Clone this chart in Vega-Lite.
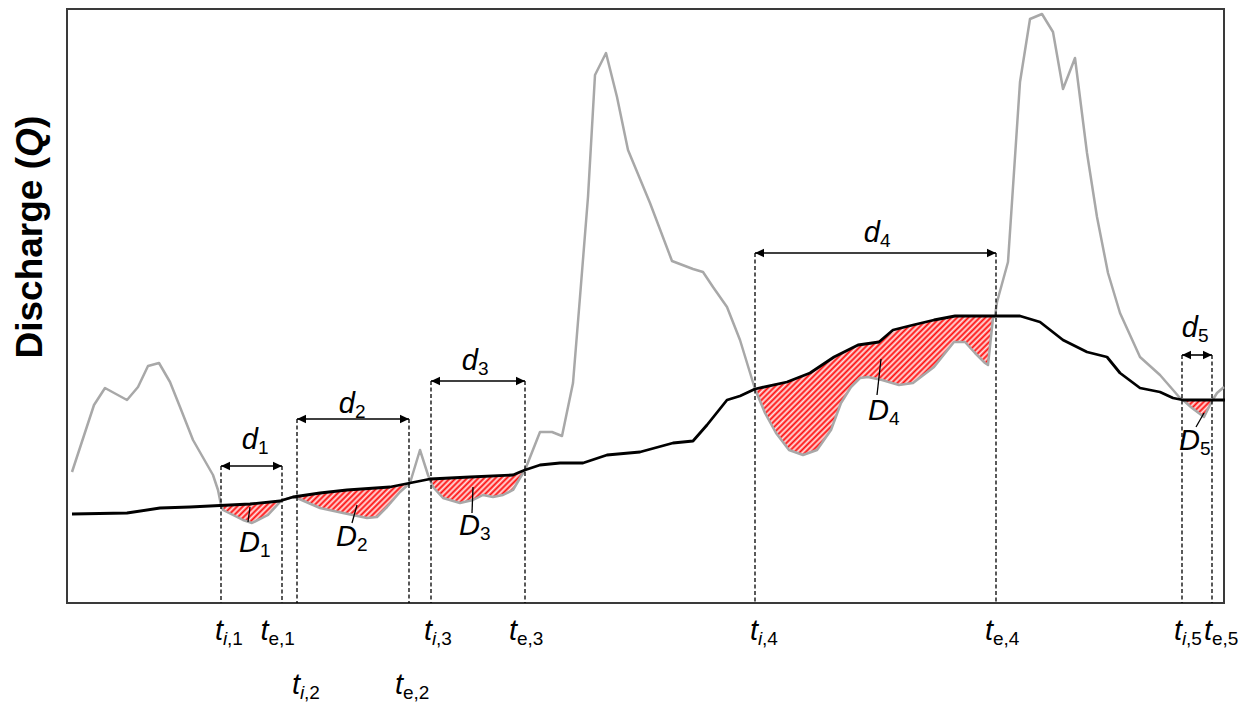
{
  "$schema": "https://vega.github.io/schema/vega-lite/v6.json",
  "width": 1157,
  "height": 594,
  "autosize": {"type": "none"},
  "padding": {"left": 67, "top": 9, "right": 16, "bottom": 99},
  "background": "white",
  "config": {
    "view": {"stroke": "#3a3a3a", "strokeWidth": 2},
    "font": "Liberation Sans"
  },
  "datasets": {
    "obs": [
      {"x":5,"q":131},{"x":27,"q":198},{"x":38,"q":215},{"x":60,"q":203},{"x":71,"q":216},{"x":81,"q":237},{"x":92,"q":240},{"x":103,"q":221},{"x":113,"q":196},{"x":126,"q":163},{"x":146,"q":128},{"x":151,"q":113},{"x":154,"q":98},{"x":156,"q":93},{"x":176,"q":83},{"x":185,"q":80},{"x":201,"q":88},{"x":213,"q":101},{"x":216,"q":103},{"x":226,"q":106},{"x":230,"q":105},{"x":253,"q":95},{"x":276,"q":90},{"x":300,"q":85},{"x":310,"q":86},{"x":320,"q":96},{"x":333,"q":111},{"x":343,"q":120},{"x":353,"q":153},{"x":361,"q":128},{"x":363,"q":123},{"x":366,"q":116},{"x":376,"q":105},{"x":393,"q":100},{"x":406,"q":103},{"x":416,"q":108},{"x":426,"q":106},{"x":436,"q":108},{"x":446,"q":113},{"x":453,"q":125},{"x":458,"q":133},{"x":473,"q":171},{"x":485,"q":171},{"x":495,"q":167},{"x":506,"q":220},{"x":513,"q":306},{"x":521,"q":406},{"x":528,"q":528},{"x":539,"q":550},{"x":550,"q":506},{"x":561,"q":453},{"x":583,"q":400},{"x":605,"q":342},{"x":626,"q":334},{"x":636,"q":331},{"x":646,"q":316},{"x":660,"q":296},{"x":673,"q":263},{"x":688,"q":214},{"x":698,"q":190},{"x":709,"q":170},{"x":722,"q":153},{"x":736,"q":148},{"x":750,"q":153},{"x":764,"q":173},{"x":774,"q":200},{"x":784,"q":216},{"x":793,"q":225},{"x":801,"q":226},{"x":815,"q":223},{"x":832,"q":218},{"x":846,"q":220},{"x":867,"q":236},{"x":887,"q":261},{"x":898,"q":261},{"x":908,"q":250},{"x":918,"q":240},{"x":921,"q":238},{"x":926,"q":285},{"x":928,"q":287},{"x":930,"q":301},{"x":941,"q":341},{"x":953,"q":521},{"x":963,"q":584},{"x":975,"q":589},{"x":986,"q":571},{"x":996,"q":514},{"x":1008,"q":545},{"x":1020,"q":450},{"x":1030,"q":386},{"x":1041,"q":330},{"x":1053,"q":290},{"x":1073,"q":246},{"x":1093,"q":228},{"x":1113,"q":205},{"x":1116,"q":203},{"x":1125,"q":195},{"x":1137,"q":186},{"x":1145,"q":202},{"x":1150,"q":210},{"x":1157,"q":216}
    ],
    "base": [
      {"x":5,"q":89},{"x":60,"q":90},{"x":93,"q":95},{"x":123,"q":96},{"x":153,"q":97.5},{"x":183,"q":99},{"x":213,"q":102},{"x":216,"q":103},{"x":226,"q":106},{"x":253,"q":110},{"x":280,"q":113},{"x":323,"q":116},{"x":343,"q":120},{"x":363,"q":124},{"x":403,"q":126},{"x":446,"q":128},{"x":453,"q":131},{"x":458,"q":133},{"x":473,"q":138},{"x":493,"q":140},{"x":516,"q":140},{"x":540,"q":148},{"x":573,"q":151},{"x":606,"q":160},{"x":626,"q":162},{"x":640,"q":178},{"x":660,"q":203},{"x":673,"q":207},{"x":688,"q":214},{"x":720,"q":221},{"x":743,"q":230},{"x":767,"q":246},{"x":791,"q":258},{"x":812,"q":261},{"x":826,"q":273},{"x":846,"q":278},{"x":867,"q":283},{"x":888,"q":287},{"x":929,"q":287},{"x":953,"q":287},{"x":973,"q":281},{"x":996,"q":263},{"x":1020,"q":251},{"x":1040,"q":246},{"x":1053,"q":230},{"x":1073,"q":215},{"x":1093,"q":211},{"x":1106,"q":205},{"x":1116,"q":203},{"x":1158,"q":203}
    ],
    "ev": [
      {"e":1,"x":154,"lo":98,"hi":98},{"e":1,"x":156,"lo":93,"hi":97.7},{"e":1,"x":176,"lo":83,"hi":98.6},{"e":1,"x":185,"lo":80,"hi":99.2},{"e":1,"x":201,"lo":88,"hi":100.8},{"e":1,"x":213,"lo":101,"hi":102},{"e":1,"x":216,"lo":103,"hi":103},
      {"e":2,"x":230,"lo":105,"hi":106.5},{"e":2,"x":253,"lo":95,"hi":110},{"e":2,"x":276,"lo":90,"hi":112.6},{"e":2,"x":300,"lo":85,"hi":114.4},{"e":2,"x":310,"lo":86,"hi":115.1},{"e":2,"x":320,"lo":96,"hi":115.8},{"e":2,"x":333,"lo":111,"hi":118},{"e":2,"x":343,"lo":120,"hi":120},
      {"e":3,"x":363,"lo":124,"hi":124},{"e":3,"x":366,"lo":116,"hi":124.2},{"e":3,"x":376,"lo":105,"hi":124.8},{"e":3,"x":393,"lo":100,"hi":125.5},{"e":3,"x":406,"lo":103,"hi":126},{"e":3,"x":416,"lo":108,"hi":126.5},{"e":3,"x":426,"lo":106,"hi":127},{"e":3,"x":436,"lo":108,"hi":127.5},{"e":3,"x":446,"lo":113,"hi":128},{"e":3,"x":453,"lo":125,"hi":131},{"e":3,"x":458,"lo":133,"hi":133},
      {"e":4,"x":688,"lo":214,"hi":214},{"e":4,"x":698,"lo":190,"hi":216.2},{"e":4,"x":709,"lo":170,"hi":218.6},{"e":4,"x":722,"lo":153,"hi":221.3},{"e":4,"x":736,"lo":148,"hi":227.3},{"e":4,"x":750,"lo":153,"hi":234.1},{"e":4,"x":764,"lo":173,"hi":244},{"e":4,"x":774,"lo":200,"hi":249.5},{"e":4,"x":784,"lo":216,"hi":254.5},{"e":4,"x":793,"lo":225,"hi":258.2},{"e":4,"x":801,"lo":226,"hi":259.6},{"e":4,"x":815,"lo":223,"hi":263.6},{"e":4,"x":832,"lo":218,"hi":274.5},{"e":4,"x":846,"lo":220,"hi":278},{"e":4,"x":867,"lo":236,"hi":283},{"e":4,"x":887,"lo":261,"hi":286.8},{"e":4,"x":898,"lo":261,"hi":287},{"e":4,"x":908,"lo":250,"hi":287},{"e":4,"x":918,"lo":240,"hi":287},{"e":4,"x":921,"lo":238,"hi":287},{"e":4,"x":926,"lo":285,"hi":287},{"e":4,"x":928,"lo":287,"hi":287},
      {"e":5,"x":1116,"lo":203,"hi":203},{"e":5,"x":1125,"lo":195,"hi":203},{"e":5,"x":1137,"lo":186,"hi":203},{"e":5,"x":1145,"lo":202,"hi":203},{"e":5,"x":1146,"lo":203,"hi":203}
    ],
    "arr": [
      {"x1":154,"x2":215,"q":137},
      {"x1":230,"x2":342,"q":184},
      {"x1":364,"x2":458,"q":222},
      {"x1":688,"x2":929,"q":350},
      {"x1":1115,"x2":1145,"q":248}
    ],
    "lead": [
      {"x":183,"q":96,"x2":181,"q2":81},
      {"x":290,"q":98,"x2":285,"q2":80},
      {"x":406,"q":116,"x2":405,"q2":90},
      {"x":814,"q":244,"x2":810,"q2":208},
      {"x":1137,"q":190,"x2":1129,"q2":176}
    ],
    "txt": [
      {"x":156,"q":-37,"t":"t","s":"m"},{"x":156,"q":-37,"t":"i","s":"si"},{"x":160,"q":-37,"t":",1","s":"sr"},
      {"x":201.5,"q":-37,"t":"t","s":"m"},{"x":201.5,"q":-37,"t":"e,1","s":"sr"},
      {"x":233,"q":-91,"t":"t","s":"m"},{"x":233,"q":-91,"t":"i","s":"si"},{"x":237,"q":-91,"t":",2","s":"sr"},
      {"x":336,"q":-91,"t":"t","s":"m"},{"x":336,"q":-91,"t":"e,2","s":"sr"},
      {"x":365,"q":-37,"t":"t","s":"m"},{"x":365,"q":-37,"t":"i","s":"si"},{"x":369,"q":-37,"t":",3","s":"sr"},
      {"x":450,"q":-37,"t":"t","s":"m"},{"x":450,"q":-37,"t":"e,3","s":"sr"},
      {"x":691,"q":-37,"t":"t","s":"m"},{"x":691,"q":-37,"t":"i","s":"si"},{"x":695,"q":-37,"t":",4","s":"sr"},
      {"x":926,"q":-37,"t":"t","s":"m"},{"x":926,"q":-37,"t":"e,4","s":"sr"},
      {"x":1115,"q":-37,"t":"t","s":"m"},{"x":1115,"q":-37,"t":"i","s":"si"},{"x":1119,"q":-37,"t":",5","s":"sr"},
      {"x":1145,"q":-37,"t":"t","s":"m"},{"x":1145,"q":-37,"t":"e,5","s":"sr"},
      {"x":191,"q":154,"t":"d","s":"m"},{"x":191,"q":154,"t":"1","s":"sr"},
      {"x":288,"q":190,"t":"d","s":"m"},{"x":288,"q":190,"t":"2","s":"sr"},
      {"x":411,"q":233,"t":"d","s":"m"},{"x":411,"q":233,"t":"3","s":"sr"},
      {"x":813,"q":361,"t":"d","s":"m"},{"x":813,"q":361,"t":"4","s":"sr"},
      {"x":1131,"q":266,"t":"d","s":"m"},{"x":1131,"q":266,"t":"5","s":"sr"},
      {"x":193,"q":51,"t":"D","s":"m"},{"x":193,"q":51,"t":"1","s":"sr"},
      {"x":290,"q":57,"t":"D","s":"m"},{"x":290,"q":57,"t":"2","s":"sr"},
      {"x":413,"q":68,"t":"D","s":"m"},{"x":413,"q":68,"t":"3","s":"sr"},
      {"x":822,"q":183,"t":"D","s":"m"},{"x":822,"q":183,"t":"4","s":"sr"},
      {"x":1133,"q":153,"t":"D","s":"m"},{"x":1133,"q":153,"t":"5","s":"sr"}
    ],
    "ttl": [
      {"x":-25,"q":446,"t":"Discharge (","s":"b"},
      {"x":-25,"q":446,"t":"Q","s":"bi"},
      {"x":-25,"q":475,"t":")","s":"bl"}
    ]
  },
  "layer": [
    {
      "data": {"name": "ev"},
      "transform": [{"filter": {"field": "e", "equal": 1}}],
      "mark": {"type": "area", "interpolate": "linear", "fillOpacity": 0.96,
        "fill": {"gradient": "linear", "x1": 0, "y1": 0, "x2": 1.2431, "y2": 0.4612, "stops": [
          {"offset":0,"color":"red"},{"offset":0.0323,"color":"#ffe4e4"},{"offset":0.0645,"color":"red"},{"offset":0.0968,"color":"#ffe4e4"},{"offset":0.129,"color":"red"},{"offset":0.1613,"color":"#ffe4e4"},{"offset":0.1935,"color":"red"},{"offset":0.2258,"color":"#ffe4e4"},{"offset":0.2581,"color":"red"},{"offset":0.2903,"color":"#ffe4e4"},{"offset":0.3226,"color":"red"},{"offset":0.3548,"color":"#ffe4e4"},{"offset":0.3871,"color":"red"},{"offset":0.4194,"color":"#ffe4e4"},{"offset":0.4516,"color":"red"},{"offset":0.4839,"color":"#ffe4e4"},{"offset":0.5161,"color":"red"},{"offset":0.5484,"color":"#ffe4e4"},{"offset":0.5806,"color":"red"},{"offset":0.6129,"color":"#ffe4e4"},{"offset":0.6452,"color":"red"},{"offset":0.6774,"color":"#ffe4e4"},{"offset":0.7097,"color":"red"},{"offset":0.7419,"color":"#ffe4e4"},{"offset":0.7742,"color":"red"},{"offset":0.8065,"color":"#ffe4e4"},{"offset":0.8387,"color":"red"},{"offset":0.871,"color":"#ffe4e4"},{"offset":0.9032,"color":"red"},{"offset":0.9355,"color":"#ffe4e4"},{"offset":0.9677,"color":"red"},{"offset":1,"color":"#ffe4e4"}
        ]}},
      "encoding": {
        "x": {"field": "x", "type": "quantitative", "scale": {"domain": [0, 1157], "nice": false, "zero": false},
              "axis": {"grid": true, "values": [199, 398, 597, 796, 995], "labels": false, "ticks": false, "domain": false, "title": null, "gridColor": "#d9d9d9", "gridWidth": 1.5}},
        "y": {"field": "hi", "type": "quantitative", "scale": {"domain": [0, 594], "nice": false, "zero": false},
              "axis": {"grid": true, "values": [99, 198, 297, 396, 495], "labels": false, "ticks": false, "domain": false, "title": null, "gridColor": "#d9d9d9", "gridWidth": 1.5}},
        "y2": {"field": "lo"}
      }
    },
    {
      "data": {"name": "ev"},
      "transform": [{"filter": {"field": "e", "equal": 2}}],
      "mark": {"type": "area", "interpolate": "linear", "fillOpacity": 0.96,
        "fill": {"gradient": "linear", "x1": 0, "y1": 0, "x2": 1.2333, "y2": 0.382, "stops": [
          {"offset":0,"color":"red"},{"offset":0.0185,"color":"#ffe4e4"},{"offset":0.037,"color":"red"},{"offset":0.0556,"color":"#ffe4e4"},{"offset":0.0741,"color":"red"},{"offset":0.0926,"color":"#ffe4e4"},{"offset":0.1111,"color":"red"},{"offset":0.1296,"color":"#ffe4e4"},{"offset":0.1481,"color":"red"},{"offset":0.1667,"color":"#ffe4e4"},{"offset":0.1852,"color":"red"},{"offset":0.2037,"color":"#ffe4e4"},{"offset":0.2222,"color":"red"},{"offset":0.2407,"color":"#ffe4e4"},{"offset":0.2593,"color":"red"},{"offset":0.2778,"color":"#ffe4e4"},{"offset":0.2963,"color":"red"},{"offset":0.3148,"color":"#ffe4e4"},{"offset":0.3333,"color":"red"},{"offset":0.3519,"color":"#ffe4e4"},{"offset":0.3704,"color":"red"},{"offset":0.3889,"color":"#ffe4e4"},{"offset":0.4074,"color":"red"},{"offset":0.4259,"color":"#ffe4e4"},{"offset":0.4444,"color":"red"},{"offset":0.463,"color":"#ffe4e4"},{"offset":0.4815,"color":"red"},{"offset":0.5,"color":"#ffe4e4"},{"offset":0.5185,"color":"red"},{"offset":0.537,"color":"#ffe4e4"},{"offset":0.5556,"color":"red"},{"offset":0.5741,"color":"#ffe4e4"},{"offset":0.5926,"color":"red"},{"offset":0.6111,"color":"#ffe4e4"},{"offset":0.6296,"color":"red"},{"offset":0.6481,"color":"#ffe4e4"},{"offset":0.6667,"color":"red"},{"offset":0.6852,"color":"#ffe4e4"},{"offset":0.7037,"color":"red"},{"offset":0.7222,"color":"#ffe4e4"},{"offset":0.7407,"color":"red"},{"offset":0.7593,"color":"#ffe4e4"},{"offset":0.7778,"color":"red"},{"offset":0.7963,"color":"#ffe4e4"},{"offset":0.8148,"color":"red"},{"offset":0.8333,"color":"#ffe4e4"},{"offset":0.8519,"color":"red"},{"offset":0.8704,"color":"#ffe4e4"},{"offset":0.8889,"color":"red"},{"offset":0.9074,"color":"#ffe4e4"},{"offset":0.9259,"color":"red"},{"offset":0.9444,"color":"#ffe4e4"},{"offset":0.963,"color":"red"},{"offset":0.9815,"color":"#ffe4e4"},{"offset":1,"color":"red"}
        ]}},
      "encoding": {
        "x": {"field": "x", "type": "quantitative", "axis": null},
        "y": {"field": "hi", "type": "quantitative", "axis": null},
        "y2": {"field": "lo"}
      }
    },
    {
      "data": {"name": "ev"},
      "transform": [{"filter": {"field": "e", "equal": 3}}],
      "mark": {"type": "area", "interpolate": "linear", "fillOpacity": 0.96,
        "fill": {"gradient": "linear", "x1": 0, "y1": 0, "x2": 1.2221, "y2": 0.4245, "stops": [
          {"offset":0,"color":"red"},{"offset":0.0217,"color":"#ffe4e4"},{"offset":0.0435,"color":"red"},{"offset":0.0652,"color":"#ffe4e4"},{"offset":0.087,"color":"red"},{"offset":0.1087,"color":"#ffe4e4"},{"offset":0.1304,"color":"red"},{"offset":0.1522,"color":"#ffe4e4"},{"offset":0.1739,"color":"red"},{"offset":0.1957,"color":"#ffe4e4"},{"offset":0.2174,"color":"red"},{"offset":0.2391,"color":"#ffe4e4"},{"offset":0.2609,"color":"red"},{"offset":0.2826,"color":"#ffe4e4"},{"offset":0.3043,"color":"red"},{"offset":0.3261,"color":"#ffe4e4"},{"offset":0.3478,"color":"red"},{"offset":0.3696,"color":"#ffe4e4"},{"offset":0.3913,"color":"red"},{"offset":0.413,"color":"#ffe4e4"},{"offset":0.4348,"color":"red"},{"offset":0.4565,"color":"#ffe4e4"},{"offset":0.4783,"color":"red"},{"offset":0.5,"color":"#ffe4e4"},{"offset":0.5217,"color":"red"},{"offset":0.5435,"color":"#ffe4e4"},{"offset":0.5652,"color":"red"},{"offset":0.587,"color":"#ffe4e4"},{"offset":0.6087,"color":"red"},{"offset":0.6304,"color":"#ffe4e4"},{"offset":0.6522,"color":"red"},{"offset":0.6739,"color":"#ffe4e4"},{"offset":0.6957,"color":"red"},{"offset":0.7174,"color":"#ffe4e4"},{"offset":0.7391,"color":"red"},{"offset":0.7609,"color":"#ffe4e4"},{"offset":0.7826,"color":"red"},{"offset":0.8043,"color":"#ffe4e4"},{"offset":0.8261,"color":"red"},{"offset":0.8478,"color":"#ffe4e4"},{"offset":0.8696,"color":"red"},{"offset":0.8913,"color":"#ffe4e4"},{"offset":0.913,"color":"red"},{"offset":0.9348,"color":"#ffe4e4"},{"offset":0.9565,"color":"red"},{"offset":0.9783,"color":"#ffe4e4"},{"offset":1,"color":"red"}
        ]}},
      "encoding": {
        "x": {"field": "x", "type": "quantitative", "axis": null},
        "y": {"field": "hi", "type": "quantitative", "axis": null},
        "y2": {"field": "lo"}
      }
    },
    {
      "data": {"name": "ev"},
      "transform": [{"filter": {"field": "e", "equal": 4}}],
      "mark": {"type": "area", "interpolate": "linear", "fillOpacity": 0.96,
        "fill": {"gradient": "linear", "x1": 0, "y1": 0, "x2": 1.1825, "y2": 0.6849, "stops": [
          {"offset":0,"color":"red"},{"offset":0.0075,"color":"#ffe4e4"},{"offset":0.0149,"color":"red"},{"offset":0.0224,"color":"#ffe4e4"},{"offset":0.0299,"color":"red"},{"offset":0.0373,"color":"#ffe4e4"},{"offset":0.0448,"color":"red"},{"offset":0.0522,"color":"#ffe4e4"},{"offset":0.0597,"color":"red"},{"offset":0.0672,"color":"#ffe4e4"},{"offset":0.0746,"color":"red"},{"offset":0.0821,"color":"#ffe4e4"},{"offset":0.0896,"color":"red"},{"offset":0.097,"color":"#ffe4e4"},{"offset":0.1045,"color":"red"},{"offset":0.1119,"color":"#ffe4e4"},{"offset":0.1194,"color":"red"},{"offset":0.1269,"color":"#ffe4e4"},{"offset":0.1343,"color":"red"},{"offset":0.1418,"color":"#ffe4e4"},{"offset":0.1493,"color":"red"},{"offset":0.1567,"color":"#ffe4e4"},{"offset":0.1642,"color":"red"},{"offset":0.1716,"color":"#ffe4e4"},{"offset":0.1791,"color":"red"},{"offset":0.1866,"color":"#ffe4e4"},{"offset":0.194,"color":"red"},{"offset":0.2015,"color":"#ffe4e4"},{"offset":0.209,"color":"red"},{"offset":0.2164,"color":"#ffe4e4"},{"offset":0.2239,"color":"red"},{"offset":0.2313,"color":"#ffe4e4"},{"offset":0.2388,"color":"red"},{"offset":0.2463,"color":"#ffe4e4"},{"offset":0.2537,"color":"red"},{"offset":0.2612,"color":"#ffe4e4"},{"offset":0.2687,"color":"red"},{"offset":0.2761,"color":"#ffe4e4"},{"offset":0.2836,"color":"red"},{"offset":0.291,"color":"#ffe4e4"},{"offset":0.2985,"color":"red"},{"offset":0.306,"color":"#ffe4e4"},{"offset":0.3134,"color":"red"},{"offset":0.3209,"color":"#ffe4e4"},{"offset":0.3284,"color":"red"},{"offset":0.3358,"color":"#ffe4e4"},{"offset":0.3433,"color":"red"},{"offset":0.3507,"color":"#ffe4e4"},{"offset":0.3582,"color":"red"},{"offset":0.3657,"color":"#ffe4e4"},{"offset":0.3731,"color":"red"},{"offset":0.3806,"color":"#ffe4e4"},{"offset":0.3881,"color":"red"},{"offset":0.3955,"color":"#ffe4e4"},{"offset":0.403,"color":"red"},{"offset":0.4104,"color":"#ffe4e4"},{"offset":0.4179,"color":"red"},{"offset":0.4254,"color":"#ffe4e4"},{"offset":0.4328,"color":"red"},{"offset":0.4403,"color":"#ffe4e4"},{"offset":0.4478,"color":"red"},{"offset":0.4552,"color":"#ffe4e4"},{"offset":0.4627,"color":"red"},{"offset":0.4701,"color":"#ffe4e4"},{"offset":0.4776,"color":"red"},{"offset":0.4851,"color":"#ffe4e4"},{"offset":0.4925,"color":"red"},{"offset":0.5,"color":"#ffe4e4"},{"offset":0.5075,"color":"red"},{"offset":0.5149,"color":"#ffe4e4"},{"offset":0.5224,"color":"red"},{"offset":0.5299,"color":"#ffe4e4"},{"offset":0.5373,"color":"red"},{"offset":0.5448,"color":"#ffe4e4"},{"offset":0.5522,"color":"red"},{"offset":0.5597,"color":"#ffe4e4"},{"offset":0.5672,"color":"red"},{"offset":0.5746,"color":"#ffe4e4"},{"offset":0.5821,"color":"red"},{"offset":0.5896,"color":"#ffe4e4"},{"offset":0.597,"color":"red"},{"offset":0.6045,"color":"#ffe4e4"},{"offset":0.6119,"color":"red"},{"offset":0.6194,"color":"#ffe4e4"},{"offset":0.6269,"color":"red"},{"offset":0.6343,"color":"#ffe4e4"},{"offset":0.6418,"color":"red"},{"offset":0.6493,"color":"#ffe4e4"},{"offset":0.6567,"color":"red"},{"offset":0.6642,"color":"#ffe4e4"},{"offset":0.6716,"color":"red"},{"offset":0.6791,"color":"#ffe4e4"},{"offset":0.6866,"color":"red"},{"offset":0.694,"color":"#ffe4e4"},{"offset":0.7015,"color":"red"},{"offset":0.709,"color":"#ffe4e4"},{"offset":0.7164,"color":"red"},{"offset":0.7239,"color":"#ffe4e4"},{"offset":0.7313,"color":"red"},{"offset":0.7388,"color":"#ffe4e4"},{"offset":0.7463,"color":"red"},{"offset":0.7537,"color":"#ffe4e4"},{"offset":0.7612,"color":"red"},{"offset":0.7687,"color":"#ffe4e4"},{"offset":0.7761,"color":"red"},{"offset":0.7836,"color":"#ffe4e4"},{"offset":0.791,"color":"red"},{"offset":0.7985,"color":"#ffe4e4"},{"offset":0.806,"color":"red"},{"offset":0.8134,"color":"#ffe4e4"},{"offset":0.8209,"color":"red"},{"offset":0.8284,"color":"#ffe4e4"},{"offset":0.8358,"color":"red"},{"offset":0.8433,"color":"#ffe4e4"},{"offset":0.8507,"color":"red"},{"offset":0.8582,"color":"#ffe4e4"},{"offset":0.8657,"color":"red"},{"offset":0.8731,"color":"#ffe4e4"},{"offset":0.8806,"color":"red"},{"offset":0.8881,"color":"#ffe4e4"},{"offset":0.8955,"color":"red"},{"offset":0.903,"color":"#ffe4e4"},{"offset":0.9104,"color":"red"},{"offset":0.9179,"color":"#ffe4e4"},{"offset":0.9254,"color":"red"},{"offset":0.9328,"color":"#ffe4e4"},{"offset":0.9403,"color":"red"},{"offset":0.9478,"color":"#ffe4e4"},{"offset":0.9552,"color":"red"},{"offset":0.9627,"color":"#ffe4e4"},{"offset":0.9701,"color":"red"},{"offset":0.9776,"color":"#ffe4e4"},{"offset":0.9851,"color":"red"},{"offset":0.9925,"color":"#ffe4e4"},{"offset":1,"color":"red"}
        ]}},
      "encoding": {
        "x": {"field": "x", "type": "quantitative", "axis": null},
        "y": {"field": "hi", "type": "quantitative", "axis": null},
        "y2": {"field": "lo"}
      }
    },
    {
      "data": {"name": "ev"},
      "transform": [{"filter": {"field": "e", "equal": 5}}],
      "mark": {"type": "area", "interpolate": "linear", "fillOpacity": 0.96,
        "fill": {"gradient": "linear", "x1": 0, "y1": 0, "x2": 1.2846, "y2": 0.7279, "stops": [
          {"offset":0,"color":"red"},{"offset":0.0556,"color":"#ffe4e4"},{"offset":0.1111,"color":"red"},{"offset":0.1667,"color":"#ffe4e4"},{"offset":0.2222,"color":"red"},{"offset":0.2778,"color":"#ffe4e4"},{"offset":0.3333,"color":"red"},{"offset":0.3889,"color":"#ffe4e4"},{"offset":0.4444,"color":"red"},{"offset":0.5,"color":"#ffe4e4"},{"offset":0.5556,"color":"red"},{"offset":0.6111,"color":"#ffe4e4"},{"offset":0.6667,"color":"red"},{"offset":0.7222,"color":"#ffe4e4"},{"offset":0.7778,"color":"red"},{"offset":0.8333,"color":"#ffe4e4"},{"offset":0.8889,"color":"red"},{"offset":0.9444,"color":"#ffe4e4"},{"offset":1,"color":"red"}
        ]}},
      "encoding": {
        "x": {"field": "x", "type": "quantitative", "axis": null},
        "y": {"field": "hi", "type": "quantitative", "axis": null},
        "y2": {"field": "lo"}
      }
    },
    {
      "data": {"name": "obs"},
      "mark": {"type": "line", "color": "#a8a8a8", "strokeWidth": 2.5, "strokeJoin": "round"},
      "encoding": {
        "x": {"field": "x", "type": "quantitative", "axis": null},
        "y": {"field": "q", "type": "quantitative", "axis": null}
      }
    },
    {
      "data": {"name": "base"},
      "mark": {"type": "line", "color": "#000000", "strokeWidth": 2.8, "strokeJoin": "round"},
      "encoding": {
        "x": {"field": "x", "type": "quantitative", "axis": null},
        "y": {"field": "q", "type": "quantitative", "axis": null}
      }
    },
    {
      "data": {"name": "arr"},
      "transform": [{"fold": ["x1", "x2"], "as": ["side", "px"]}],
      "mark": {"type": "rule", "color": "#000000", "strokeWidth": 1.3, "strokeDash": [4, 2.5]},
      "encoding": {
        "x": {"field": "px", "type": "quantitative", "axis": null},
        "y": {"field": "q", "type": "quantitative", "axis": null},
        "y2": {"datum": 0}
      }
    },
    {
      "data": {"name": "arr"},
      "mark": {"type": "rule", "color": "#000000", "strokeWidth": 1.6},
      "encoding": {
        "x": {"field": "x1", "type": "quantitative", "axis": null},
        "x2": {"field": "x2"},
        "y": {"field": "q", "type": "quantitative", "axis": null}
      }
    },
    {
      "data": {"name": "arr"},
      "transform": [{"fold": ["x1", "x2"], "as": ["side", "px"]}],
      "mark": {"type": "point", "filled": true, "color": "#000000", "size": 400, "opacity": 1, "strokeWidth": 0},
      "encoding": {
        "x": {"field": "px", "type": "quantitative", "axis": null},
        "y": {"field": "q", "type": "quantitative", "axis": null},
        "shape": {"field": "side", "type": "nominal", "legend": null,
                  "scale": {"domain": ["x1", "x2"], "range": ["M0,0L0.9,-0.42L0.9,0.42Z", "M0,0L-0.9,-0.42L-0.9,0.42Z"]}}
      }
    },
    {
      "data": {"name": "lead"},
      "mark": {"type": "rule", "color": "#000000", "strokeWidth": 1.3},
      "encoding": {
        "x": {"field": "x", "type": "quantitative", "axis": null},
        "y": {"field": "q", "type": "quantitative", "axis": null},
        "x2": {"field": "x2"},
        "y2": {"field": "q2"}
      }
    },
    {
      "data": {"name": "txt"},
      "transform": [{"filter": {"field": "s", "equal": "m"}}],
      "mark": {"type": "text", "font": "Liberation Sans", "fontSize": 29, "fontStyle": "italic", "align": "right", "baseline": "alphabetic", "color": "#000000"},
      "encoding": {
        "x": {"field": "x", "type": "quantitative", "axis": null},
        "y": {"field": "q", "type": "quantitative", "axis": null},
        "text": {"field": "t"}
      }
    },
    {
      "data": {"name": "txt"},
      "transform": [{"filter": {"field": "s", "equal": "si"}}],
      "mark": {"type": "text", "font": "Liberation Sans", "fontSize": 19, "fontStyle": "italic", "align": "left", "baseline": "alphabetic", "dy": 5, "color": "#000000"},
      "encoding": {
        "x": {"field": "x", "type": "quantitative", "axis": null},
        "y": {"field": "q", "type": "quantitative", "axis": null},
        "text": {"field": "t"}
      }
    },
    {
      "data": {"name": "txt"},
      "transform": [{"filter": {"field": "s", "equal": "sr"}}],
      "mark": {"type": "text", "font": "Liberation Sans", "fontSize": 19, "align": "left", "baseline": "alphabetic", "dy": 5, "color": "#000000"},
      "encoding": {
        "x": {"field": "x", "type": "quantitative", "axis": null},
        "y": {"field": "q", "type": "quantitative", "axis": null},
        "text": {"field": "t"}
      }
    },
    {
      "data": {"name": "ttl"},
      "transform": [{"filter": {"field": "s", "equal": "b"}}],
      "mark": {"type": "text", "font": "Liberation Sans", "fontSize": 37, "fontWeight": "bold", "angle": 270, "align": "right", "baseline": "alphabetic", "color": "#000000"},
      "encoding": {
        "x": {"field": "x", "type": "quantitative", "axis": null},
        "y": {"field": "q", "type": "quantitative", "axis": null},
        "text": {"field": "t"}
      }
    },
    {
      "data": {"name": "ttl"},
      "transform": [{"filter": {"field": "s", "equal": "bi"}}],
      "mark": {"type": "text", "font": "Liberation Sans", "fontSize": 37, "fontWeight": "bold", "fontStyle": "italic", "angle": 270, "align": "left", "baseline": "alphabetic", "color": "#000000"},
      "encoding": {
        "x": {"field": "x", "type": "quantitative", "axis": null},
        "y": {"field": "q", "type": "quantitative", "axis": null},
        "text": {"field": "t"}
      }
    },
    {
      "data": {"name": "ttl"},
      "transform": [{"filter": {"field": "s", "equal": "bl"}}],
      "mark": {"type": "text", "font": "Liberation Sans", "fontSize": 37, "fontWeight": "bold", "angle": 270, "align": "left", "baseline": "alphabetic", "color": "#000000"},
      "encoding": {
        "x": {"field": "x", "type": "quantitative", "axis": null},
        "y": {"field": "q", "type": "quantitative", "axis": null},
        "text": {"field": "t"}
      }
    }
  ]
}
